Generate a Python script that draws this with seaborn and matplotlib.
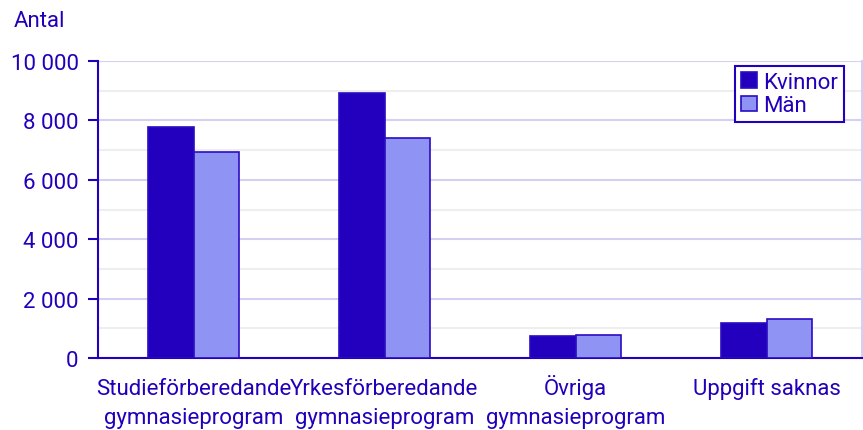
import matplotlib
matplotlib.use("Agg")
import matplotlib.pyplot as plt
import seaborn as sns
import pandas as pd
from matplotlib.ticker import FuncFormatter, MultipleLocator

categories = ["Studieförberedande\ngymnasieprogram", "Yrkesförberedande\ngymnasieprogram",
              "Övriga\ngymnasieprogram", "Uppgift saknas"]
kvinnor = [7780, 8920, 740, 1170]
man = [6940, 7410, 775, 1300]
series = ["Kvinnor", "Män"]
yticks = [0, 2000, 4000, 6000, 8000, 10000]

df = pd.DataFrame({
    "Kategori": categories * 2,
    "Antal": kvinnor + man,
    "Kön": [series[0]] * len(categories) + [series[1]] * len(categories),
})

TXT = "#2200BB"
DARK = "#2200BE"
LIGHT = "#8F93F4"
EDGE = "#2A0DC2"
MAJ = "#D4D0F2"
MIN = "#EEEEEE"
FS = 16

sns.set_theme(style="white")
plt.rcParams["font.family"] = ["Roboto", "DejaVu Sans"]

fig = plt.figure(figsize=(8.63, 4.31), dpi=100)
ax = fig.add_axes([98 / 863, 1 - 359 / 431, (862 - 98) / 863, (359 - 62) / 431])

sns.barplot(data=df, x="Kategori", y="Antal", hue="Kön", palette=[DARK, LIGHT],
            width=0.48, gap=0, edgecolor=EDGE, linewidth=1.2, saturation=1,
            errorbar=None, ax=ax, zorder=3)

ax.set_ylim(0, 10000)
ax.set_xlim(-0.5, len(categories) - 0.5)
ax.set_yticks(yticks)
ax.yaxis.set_minor_locator(MultipleLocator(1000))
ax.yaxis.set_major_formatter(FuncFormatter(lambda v, p: f"{int(v):,}".replace(",", " ")))
ax.grid(axis="y", which="major", color=MAJ, linewidth=1.5, zorder=0)
ax.grid(axis="y", which="minor", color=MIN, linewidth=1.5, zorder=0)
ax.set_axisbelow(True)
ax.set_xlabel("")
ax.set_ylabel("")

# two-line layout for every label so all first lines share one baseline
ax.set_xticks(range(len(categories)))
ax.set_xticklabels([c if "\n" in c else c + "\n" for c in categories])

ax.spines["top"].set_visible(False)
ax.spines["right"].set_color(MAJ)
ax.spines["right"].set_linewidth(1.5)
ax.spines["left"].set_color(DARK)
ax.spines["left"].set_linewidth(1.5)
ax.spines["bottom"].set_color(DARK)
ax.spines["bottom"].set_linewidth(1.5)

ax.tick_params(axis="y", which="major", length=7, width=1.5, color=DARK, labelsize=FS,
               labelcolor=TXT, pad=7, left=True)
ax.tick_params(axis="y", which="minor", length=0)
ax.tick_params(axis="x", length=0, labelsize=FS, labelcolor=TXT, pad=46.5)
for lab in ax.get_xticklabels():
    lab.set_linespacing(1.5)
    lab.set_verticalalignment("baseline")

fig.text(14 / 863, 1 - 27 / 431, "Antal", fontsize=FS, color=TXT, va="baseline", ha="left")

handles, labels = ax.get_legend_handles_labels()
leg = ax.legend(handles, labels, loc="upper right", bbox_to_anchor=(0.976, 0.983),
                frameon=True, fancybox=False, framealpha=1, edgecolor=DARK,
                fontsize=FS, handlelength=0.7, handleheight=0.7, handletextpad=0.3,
                borderpad=0.25, labelspacing=0.12, borderaxespad=0)
leg.get_frame().set_linewidth(1.5)
for t in leg.get_texts():
    t.set_color(TXT)

fig.savefig("out.png", dpi=100)
